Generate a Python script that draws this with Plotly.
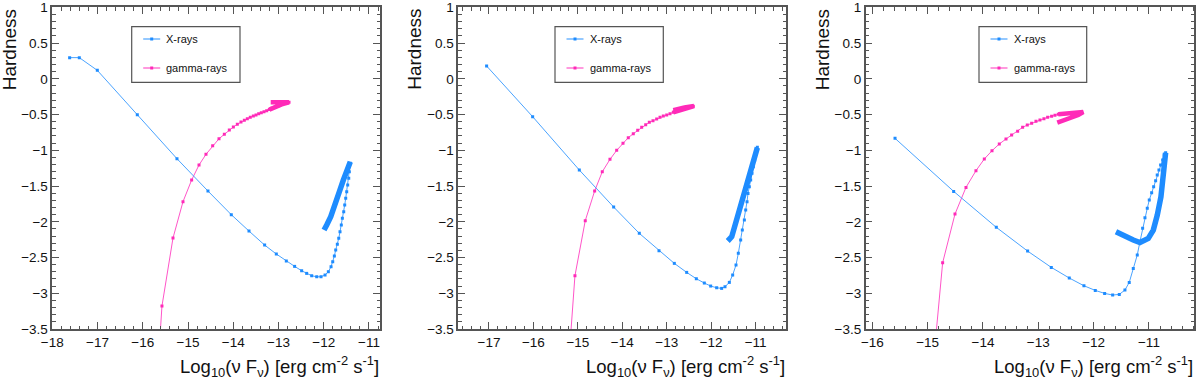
import plotly.graph_objects as go

# ---------------- data ----------------
# Panel 1
p1_xray_x = [-17.617, -17.403, -17.005, -16.121, -15.244, -14.559, -14.043, -13.652, -13.306,
             -13.048, -12.827, -12.643, -12.488, -12.377, -12.266, -12.155, -12.060, -11.971,
             -11.898, -11.838, -11.801, -11.765, -11.735, -11.699, -11.668, -11.640, -11.611,
             -11.588, -11.558, -11.536, -11.514, -11.492, -11.470, -11.447, -11.434, -11.412]
p1_xray_y = [0.296, 0.296, 0.118, -0.502, -1.118, -1.570, -1.901, -2.130, -2.326,
             -2.451, -2.549, -2.624, -2.685, -2.722, -2.755, -2.769, -2.769, -2.745,
             -2.699, -2.629, -2.559, -2.479, -2.395, -2.316, -2.232, -2.139, -2.046,
             -1.952, -1.859, -1.766, -1.672, -1.579, -1.486, -1.392, -1.300, -1.183]
p1_xray_tail_x = [-11.412, -11.492, -11.566, -11.654, -11.750, -11.845, -11.934, -11.993]
p1_xray_tail_y = [-1.160, -1.276, -1.416, -1.579, -1.766, -1.929, -2.046, -2.116]

p1_gamma_x = [-15.66, -15.576, -15.332, -15.111, -14.920, -14.757, -14.603, -14.455, -14.315,
              -14.197, -14.087, -13.998, -13.910, -13.829, -13.755, -13.689, -13.623, -13.556,
              -13.497, -13.438, -13.380, -13.320, -13.261, -13.202, -13.143, -13.077, -13.004,
              -12.929, -12.818, -12.767]
p1_gamma_y = [-4.0, -3.179, -2.228, -1.719, -1.416, -1.206, -1.057, -0.936, -0.838,
              -0.777, -0.716, -0.675, -0.637, -0.605, -0.581, -0.558, -0.539, -0.521,
              -0.506, -0.488, -0.474, -0.460, -0.446, -0.431, -0.413, -0.395, -0.376,
              -0.357, -0.343, -0.329]
p1_gamma_tail_x = [-13.202, -13.077, -12.929, -12.767, -12.966, -13.172]
p1_gamma_tail_y = [-0.431, -0.395, -0.357, -0.329, -0.322, -0.329]

# Panel 2
p2_xray_x = [-17.053, -16.017, -14.967, -14.194, -13.617, -13.174, -12.829, -12.551, -12.334,
             -12.154, -12.011, -11.876, -11.764, -11.689, -11.591, -11.516, -11.441, -11.389,
             -11.336, -11.299, -11.253, -11.223, -11.193, -11.171, -11.141, -11.111, -11.081,
             -11.051, -11.021, -10.991, -10.961]
p2_xray_y = [0.179, -0.530, -1.276, -1.794, -2.162, -2.405, -2.582, -2.708, -2.797,
             -2.857, -2.899, -2.923, -2.932, -2.909, -2.848, -2.745, -2.605, -2.442,
             -2.256, -2.116, -1.976, -1.836, -1.719, -1.603, -1.509, -1.416, -1.323,
             -1.229, -1.136, -1.043, -0.959]
p2_xray_tail_x = [-10.961, -11.051, -11.148, -11.238, -11.313, -11.389, -11.463, -11.537, -11.627]
p2_xray_tail_y = [-0.963, -1.159, -1.369, -1.579, -1.766, -1.952, -2.116, -2.209, -2.269]

p2_gamma_x = [-15.21, -15.065, -14.833, -14.622, -14.450, -14.277, -14.126, -13.984, -13.865,
              -13.752, -13.653, -13.563, -13.473, -13.392, -13.309, -13.226, -13.151, -13.077,
              -13.000, -12.926, -12.852, -12.775, -12.679, -12.589, -12.499, -12.402]
p2_gamma_y = [-4.0, -2.755, -1.985, -1.570, -1.300, -1.127, -1.001, -0.903, -0.824,
              -0.768, -0.721, -0.679, -0.642, -0.609, -0.586, -0.563, -0.539, -0.521,
              -0.507, -0.488, -0.469, -0.451, -0.432, -0.413, -0.399, -0.385]
p2_gamma_tail_x = [-12.852, -12.589, -12.386, -12.600, -12.852]
p2_gamma_tail_y = [-0.469, -0.413, -0.381, -0.402, -0.440]

# Panel 3
p3_xray_x = [-15.590, -14.530, -13.759, -13.193, -12.765, -12.440, -12.175, -11.970, -11.801,
             -11.656, -11.536, -11.434, -11.356, -11.283, -11.211, -11.163, -11.114, -11.072,
             -11.030, -10.994, -10.951, -10.915, -10.879, -10.850, -10.819, -10.789, -10.752,
             -10.723, -10.698]
p3_xray_y = [-0.833, -1.575, -2.078, -2.410, -2.638, -2.787, -2.895, -2.960, -3.002,
             -3.025, -3.016, -2.955, -2.848, -2.652, -2.465, -2.279, -2.092, -1.943,
             -1.812, -1.696, -1.593, -1.510, -1.426, -1.346, -1.276, -1.206, -1.136,
             -1.066, -1.034]
p3_xray_tail_x = [-10.698, -10.716, -10.741, -10.783, -10.849, -10.921, -11.012, -11.163,
                  -11.283, -11.403, -11.596]
p3_xray_tail_y = [-1.034, -1.206, -1.369, -1.650, -1.906, -2.116, -2.232, -2.290,
                  -2.256, -2.209, -2.139]

p3_gamma_x = [-14.90, -14.729, -14.506, -14.307, -14.127, -13.976, -13.837, -13.705, -13.584,
              -13.482, -13.373, -13.283, -13.199, -13.120, -13.042, -12.970, -12.898, -12.831,
              -12.759, -12.699, -12.639]
p3_gamma_y = [-4.0, -2.573, -1.892, -1.519, -1.286, -1.122, -1.006, -0.912, -0.842,
              -0.786, -0.735, -0.679, -0.647, -0.623, -0.595, -0.576, -0.558, -0.539,
              -0.525, -0.511, -0.497]
p3_gamma_tail_x = [-12.639, -12.548, -12.428, -12.307, -12.187, -12.277, -12.428, -12.548, -12.657]
p3_gamma_tail_y = [-0.497, -0.488, -0.479, -0.469, -0.465, -0.507, -0.553, -0.586, -0.614]

legend_labels = ["X-rays", "gamma-rays"]
x_ranges = [[-18.0, -10.756], [-17.69, -10.316], [-16.12, -10.18]]
x_ticks = [list(range(-18, -10)), list(range(-17, -10)), list(range(-16, -10))]
y_ticks = [1, 0.5, 0, -0.5, -1, -1.5, -2, -2.5, -3, -3.5]

# ---------------- style ----------------
W, H = 1200, 385
BLUE_LINE = "#4aa3ff"
BLUE = "#1e8cff"
PINK_LINE = "#ff55c8"
PINK = "#ff2ab8"
FRAME = "#555555"
FONT = "Liberation Sans, Arial, Helvetica, sans-serif"

frames_px = [(52.3, 380.0), (458.3, 786.0), (865.7, 1194.3)]
top_px, bot_px = 7.3, 329.0
legend_px = [(131.7, 240.0), (555.0, 663.3), (979.0, 1086.7)]
ytitle_px = [9.5, 415.0, 822.5]

def px(x):
    return x / W

def py(y):
    return 1 - y / H

panels = [
    (p1_xray_x, p1_xray_y, p1_xray_tail_x, p1_xray_tail_y,
     p1_gamma_x, p1_gamma_y, p1_gamma_tail_x, p1_gamma_tail_y),
    (p2_xray_x, p2_xray_y, p2_xray_tail_x, p2_xray_tail_y,
     p2_gamma_x, p2_gamma_y, p2_gamma_tail_x, p2_gamma_tail_y),
    (p3_xray_x, p3_xray_y, p3_xray_tail_x, p3_xray_tail_y,
     p3_gamma_x, p3_gamma_y, p3_gamma_tail_x, p3_gamma_tail_y),
]

fig = go.Figure()
layout = {}
shapes = []
annotations = []

for i, (xx, xy, xtx, xty, gx, gy, gtx, gty) in enumerate(panels):
    n = "" if i == 0 else str(i + 1)
    xa, ya = "x" + n, "y" + n
    # gamma
    fig.add_trace(go.Scatter(x=gx, y=gy, xaxis=xa, yaxis=ya, mode="lines+markers",
                             line=dict(color=PINK_LINE, width=1),
                             marker=dict(color=PINK, size=3, symbol="square"),
                             showlegend=False, name=legend_labels[1]))
    fig.add_trace(go.Scatter(x=gtx, y=gty, xaxis=xa, yaxis=ya, mode="lines",
                             line=dict(color=PINK, width=4.5),
                             showlegend=False, name=legend_labels[1]))
    # x-rays
    fig.add_trace(go.Scatter(x=xx, y=xy, xaxis=xa, yaxis=ya, mode="lines+markers",
                             line=dict(color=BLUE_LINE, width=1),
                             marker=dict(color=BLUE, size=3, symbol="square"),
                             showlegend=False, name=legend_labels[0]))
    fig.add_trace(go.Scatter(x=xtx, y=xty, xaxis=xa, yaxis=ya, mode="lines",
                             line=dict(color=BLUE, width=5.5),
                             showlegend=False, name=legend_labels[0]))

    l, r = frames_px[i]
    axcommon = dict(showline=True, linecolor=FRAME, linewidth=1.5, mirror="allticks",
                    ticks="inside", tickcolor=FRAME, tickwidth=1, showgrid=False,
                    zeroline=False, automargin=False, ticklabeloverflow="allow",
                    tickfont=dict(family=FONT, size=13.5, color="#111"))
    layout["xaxis" + n] = dict(axcommon, domain=[px(l), px(r)], range=x_ranges[i],
                               anchor=ya, tickvals=x_ticks[i], ticklen=7,
                               minor=dict(ticks="inside", dtick=0.2, ticklen=3.5,
                                          tickcolor=FRAME, showgrid=False))
    layout["yaxis" + n] = dict(axcommon, domain=[py(bot_px), py(top_px)], range=[-3.5, 1],
                               anchor=xa, tickvals=y_ticks, ticklen=7,
                               minor=dict(ticks="inside", dtick=0.1, ticklen=3.5,
                                          tickcolor=FRAME, showgrid=False))

    # legend box
    ll, lr = legend_px[i]
    shapes.append(dict(type="rect", xref="paper", yref="paper",
                       x0=px(ll), x1=px(lr), y0=py(82.3), y1=py(26.7),
                       line=dict(color=FRAME, width=1.2), fillcolor="white", layer="above"))
    for k, (lab, lc, mc, yy) in enumerate([(legend_labels[0], BLUE_LINE, BLUE, 39.0),
                                             (legend_labels[1], PINK_LINE, PINK, 68.0)]):
        x0 = ll + 11.5
        x1 = ll + 28.5
        shapes.append(dict(type="line", xref="paper", yref="paper",
                           x0=px(x0), x1=px(x1), y0=py(yy), y1=py(yy),
                           line=dict(color=lc, width=1.2), layer="above"))
        xm = (x0 + x1) / 2
        shapes.append(dict(type="rect", xref="paper", yref="paper",
                           x0=px(xm - 1.5), x1=px(xm + 1.5), y0=py(yy + 1.5), y1=py(yy - 1.5),
                           line=dict(width=0), fillcolor=mc, layer="above"))
        annotations.append(dict(xref="paper", yref="paper", x=px(ll + 32.5), y=py(yy),
                                xanchor="left", yanchor="middle", showarrow=False, text=lab,
                                font=dict(family=FONT, size=11, color="#111")))

    # axis titles
    annotations.append(dict(xref="paper", yref="paper", x=px(ytitle_px[i]), y=py(top_px),
                            xanchor="center", yanchor="top", textangle=-90, showarrow=False,
                            text="Hardness", font=dict(family=FONT, size=19, color="#111")))
    annotations.append(dict(xref="paper", yref="paper", x=px(r + 1), y=py(366),
                            xanchor="right", yanchor="middle", showarrow=False,
                            text="Log<sub>10</sub>(ν F<sub>ν</sub>) [erg cm<sup>-2</sup> s<sup>-1</sup>]",
                            font=dict(family=FONT, size=18.5, color="#111")))

fig.update_layout(width=W, height=H, margin=dict(l=0, r=0, t=0, b=0),
                  paper_bgcolor="white", plot_bgcolor="white", showlegend=False,
                  shapes=shapes, annotations=annotations, **layout)

fig.write_html("out.html", config={"displayModeBar": False},
               post_script="document.body.style.margin='0';document.body.style.padding='0';")
